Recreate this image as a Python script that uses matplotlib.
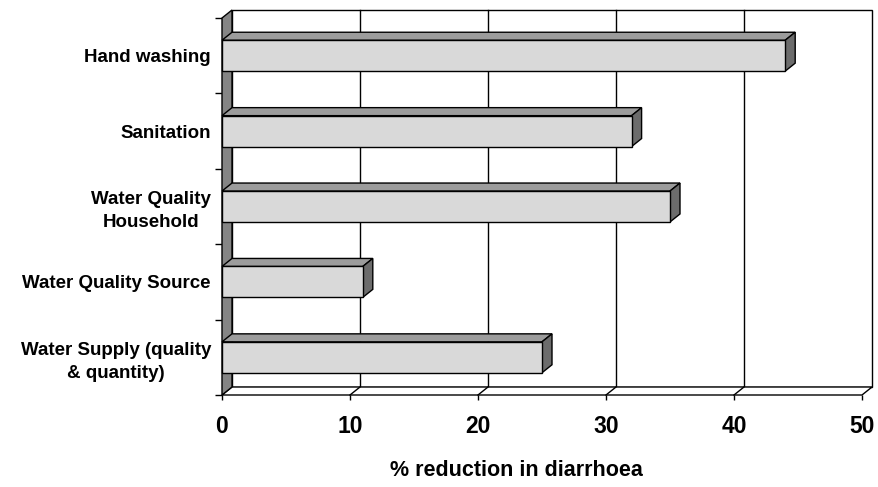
import matplotlib.pyplot as plt
from matplotlib.patches import Polygon, Rectangle

categories = ['Hand washing', 'Sanitation', 'Water Quality\nHousehold',
              'Water Quality Source', 'Water Supply (quality\n& quantity)']
values = [44, 32, 35, 11, 25]
xticks = [0, 10, 20, 30, 40, 50]

plt.rcParams['font.family'] = ['Liberation Sans', 'DejaVu Sans']
plt.rcParams['font.weight'] = 'bold'

fig = plt.figure(figsize=(8.79, 4.87), dpi=100)
ax = fig.add_axes([222/879, 92/487, 640/879, 377/487])
n = len(categories)
ax.set_xlim(0, 50)
ax.set_ylim(0, n)

# depth of the fake 3d box (in data units)
dx = 10 / 12.8
dy = 8 / 75.4
xmax = xticks[-1]
lw = 1.0

# back wall
ax.add_patch(Rectangle((dx, dy), xmax, n, facecolor='white', edgecolor='black',
                       lw=lw, clip_on=False, zorder=1))
for v in xticks[1:-1]:
    ax.plot([v + dx, v + dx], [dy, n + dy], color='black', lw=lw, clip_on=False, zorder=2)
# floor
ax.add_patch(Polygon([(0, 0), (xmax, 0), (xmax + dx, dy), (dx, dy)], closed=True,
                     facecolor='white', edgecolor='black', lw=lw, clip_on=False, zorder=2))
for v in xticks[1:-1]:
    ax.plot([v, v + dx], [0, dy], color='black', lw=lw, clip_on=False, zorder=2)
# left wall
ax.add_patch(Polygon([(0, 0), (dx, dy), (dx, n + dy), (0, n)], closed=True,
                     facecolor='#858585', edgecolor='black', lw=lw, clip_on=False, zorder=3))

# bars
h = 0.41
for i, v in enumerate(values):
    c = n - i - 0.5
    y0, y1 = c - h / 2, c + h / 2
    ax.add_patch(Polygon([(0, y1), (v, y1), (v + dx, y1 + dy), (dx, y1 + dy)], closed=True,
                         facecolor='#9c9c9c', edgecolor='black', lw=lw, clip_on=False, zorder=4))
    ax.add_patch(Polygon([(v, y0), (v + dx, y0 + dy), (v + dx, y1 + dy), (v, y1)], closed=True,
                         facecolor='#6c6c6c', edgecolor='black', lw=lw, clip_on=False, zorder=4))
    ax.add_patch(Rectangle((0, y0), v, h, facecolor='#d9d9d9', edgecolor='black',
                           lw=lw, clip_on=False, zorder=5))

for s in ax.spines.values():
    s.set_visible(False)

ax.set_xticks(xticks)
ax.set_xticklabels([str(t) for t in xticks], fontsize=16.5, fontweight='bold')
ax.tick_params(axis='x', direction='out', length=3.6, width=lw, pad=11)

ax.set_yticks(range(n + 1))
ax.set_yticklabels([])
ax.tick_params(axis='y', which='major', direction='out', length=5, width=lw)
ax.set_yticks([n - i - 0.5 for i in range(n)], minor=True)
ax.set_yticklabels(categories, minor=True, fontsize=13.5, fontweight='bold')
ax.tick_params(axis='y', which='minor', length=0, pad=8)
for lab in ax.get_yticklabels(minor=True):
    lab.set_multialignment('center')
    lab.set_linespacing(1.45)

fig.text(516/879, 1 - 470/487, '% reduction in diarrhoea', ha='center', va='center',
         fontsize=15.5, fontweight='bold')

fig.savefig('out.png', dpi=100)
